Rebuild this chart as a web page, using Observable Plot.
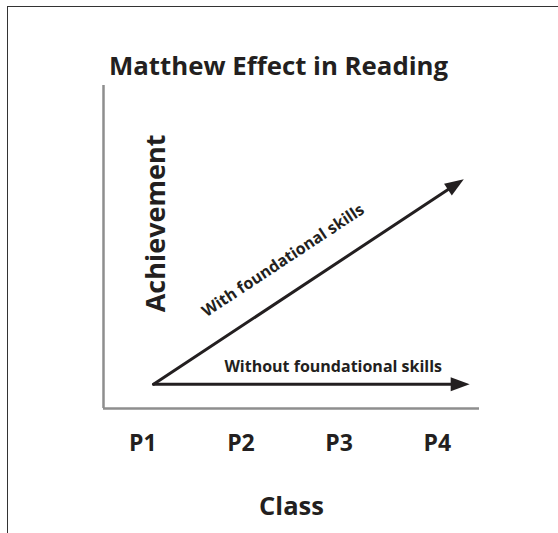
<!DOCTYPE html>
<html>
<head>
<meta charset="utf-8">
<script src="https://cdn.jsdelivr.net/npm/d3@7"></script>
<script src="https://cdn.jsdelivr.net/npm/@observablehq/plot@0.6"></script>
<style>
  html, body { margin: 0; padding: 0; background: #fff; overflow: hidden; }
  #wrap { position: relative; width: 558px; height: 533px; overflow: hidden; }
  #border { position: absolute; left: 7px; top: 6px; width: 700px; height: 700px;
            border: 1.5px solid #333; box-sizing: border-box; pointer-events: none; }
  #chart { position: absolute; left: 0; top: 0; }
</style>
</head>
<body>
<div id="wrap"><div id="chart"></div><div id="border"></div></div>
<script>
// ---- data ----
const title = "Matthew Effect in Reading";
const xLabel = "Class";
const yLabel = "Achievement";
const classes = ["P1", "P2", "P3", "P4"];
const classPos = [1, 2, 3, 4];
const series = ["With foundational skills", "Without foundational skills"];
const startClass = [1.11, 1.11];
const endClass = [4.27, 4.33];
const startAch = [0.75, 0.75];
const endAch = [7.1, 0.75];
const labelClass = [2.43, 2.94];
const labelAch = [4.58, 1.30];

// ---- layout ----
const W = 558, H = 533;
const M = {top: 85, right: 79, bottom: 125, left: 103};
const xDomain = [0.6, 4.43];
const yDomain = [0, 10];
const kx = (W - M.left - M.right) / (xDomain[1] - xDomain[0]);
const ky = (H - M.top - M.bottom) / (yDomain[1] - yDomain[0]);

const ink = "#231f20";
const font = "'Open Sans', Lato, sans-serif";

// screen angle (degrees, SVG convention: negative = upward)
const arrows = series.map((s, i) => ({
  name: s,
  x1: startClass[i], y1: startAch[i],
  x2: endClass[i], y2: endAch[i],
  lx: labelClass[i], ly: labelAch[i],
  angle: Math.atan2(-(endAch[i] - startAch[i]) * ky, (endClass[i] - startClass[i]) * kx) * 180 / Math.PI
}));

// filled arrowhead symbol with its tip at the origin, pointing up
const head = {
  draw(ctx) {
    ctx.moveTo(0, 0);
    ctx.lineTo(-7, 19);
    ctx.lineTo(7, 19);
    ctx.closePath();
  }
};

const chart = Plot.plot({
  width: W, height: H,
  marginTop: M.top, marginRight: M.right, marginBottom: M.bottom, marginLeft: M.left,
  x: {domain: xDomain},
  y: {domain: yDomain, axis: null},
  style: {fontFamily: font, color: ink, background: "transparent"},
  marks: [
    Plot.ruleY([yDomain[0]], {stroke: "#8e8e8e", strokeWidth: 2.5}),
    Plot.ruleX([xDomain[0]], {stroke: "#8e8e8e", strokeWidth: 2.5}),
    Plot.axisX(classPos, {
      tickFormat: d => classes[d - 1], tickSize: 0, tickPadding: 26,
      fontSize: 23, fontWeight: "bold", label: null
    }),
    Plot.arrow(arrows, {
      x1: "x1", y1: "y1", x2: "x2", y2: "y2",
      stroke: ink, strokeWidth: 3, headLength: 0, insetEnd: 12
    }),
    Plot.dot(arrows, {
      x: "x2", y: "y2", symbol: head, fill: ink, stroke: "none", r: 8,
      rotate: d => 90 + d.angle
    }),
    Plot.text(arrows, {
      x: "lx", y: "ly", text: "name", rotate: d => d.angle,
      fontSize: 16, fontWeight: "bold", fill: ink, lineAnchor: "middle"
    }),
    Plot.text([yLabel], {
      x: 1.136, y: 5.73, text: d => d, rotate: -90,
      fontSize: 27, fontWeight: "bold", fill: ink, lineAnchor: "middle"
    }),
    Plot.text([title], {
      x: 2.383, y: 10.58, text: d => d,
      fontSize: 25.8, fontWeight: "bold", fill: ink, lineAnchor: "middle"
    }),
    Plot.text([xLabel], {
      x: 2.515, y: -3.03, text: d => d,
      fontSize: 25.5, fontWeight: "bold", fill: ink, lineAnchor: "middle"
    })
  ]
});
document.getElementById("chart").appendChild(chart);
</script>
</body>
</html>
